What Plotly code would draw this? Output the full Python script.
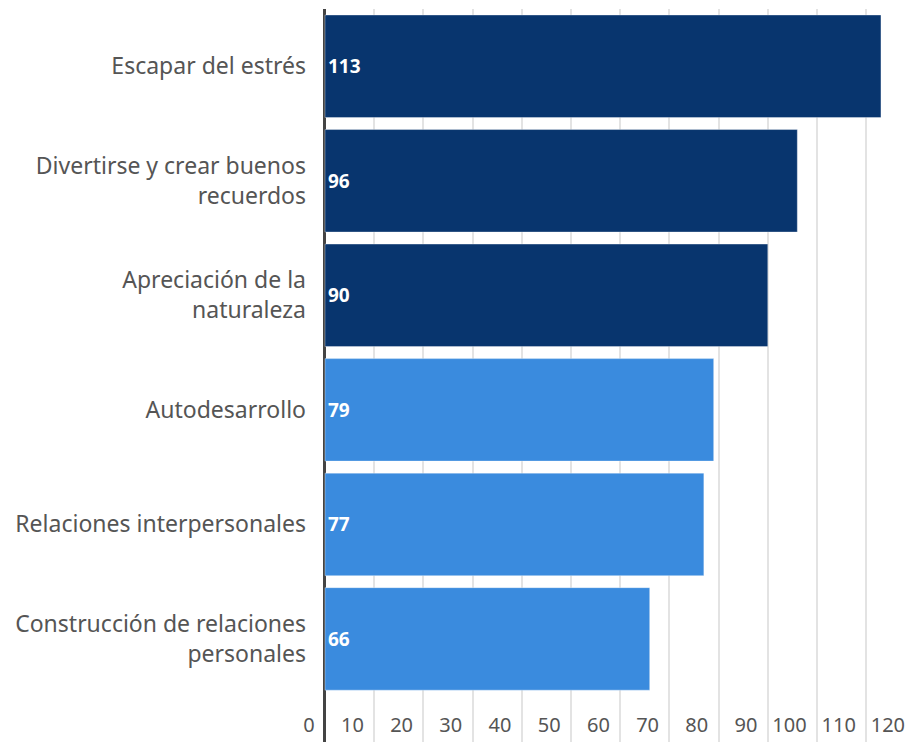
import plotly.graph_objects as go

categories = ["Escapar del estrés", "Divertirse y crear buenos<br>recuerdos",
              "Apreciación de la<br>naturaleza", "Autodesarrollo",
              "Relaciones interpersonales", "Construcción de relaciones<br>personales"]
values = [113, 96, 90, 79, 77, 66]
colors = ["#08356e", "#08356e", "#08356e", "#3a8bde", "#3a8bde", "#3a8bde"]
tick_values = [0, 10, 20, 30, 40, 50, 60, 70, 80, 90, 100, 110, 120]
tick_labels = [str(v) for v in tick_values]

FONT = "Noto Sans"

fig = go.Figure(go.Bar(
    x=values, y=categories, orientation="h",
    marker=dict(color=colors, line=dict(color="rgba(255,255,255,0.35)", width=1)),
    text=[str(v) for v in values], textposition="inside", insidetextanchor="start",
    constraintext="none",
    textfont=dict(family=FONT, size=19, color="white", weight="bold"),
    cliponaxis=False,
))

fig.update_layout(
    width=909, height=742,
    margin=dict(l=300, r=0, t=9, b=0),
    paper_bgcolor="white", plot_bgcolor="white",
    bargap=0.105,
    showlegend=False,
    font=dict(family=FONT, color="#555555", size=20),
)

fig.update_xaxes(
    range=[-5.08, 118.7],
    tickmode="array",
    tickvals=[v - 2.1 for v in tick_values],
    ticktext=tick_labels,
    ticklabelposition="inside left",
    ticks="",
    showgrid=False,
    zeroline=True, zerolinecolor="#444444", zerolinewidth=3,
    minor=dict(tick0=0, dtick=10, showgrid=True, gridcolor="#e3e3e3", gridwidth=1.5, ticks=""),
    tickfont=dict(family=FONT, size=20, color="#555555"),
    showline=False,
    fixedrange=True,
)

fig.update_yaxes(
    type="category",
    categoryorder="array", categoryarray=categories,
    range=[5.9, -0.5],
    ticks="",
    ticklabelstandoff=-7,
    showgrid=False,
    tickfont=dict(family=FONT, size=23, color="#555555"),
)

fig.write_html("out.html")
